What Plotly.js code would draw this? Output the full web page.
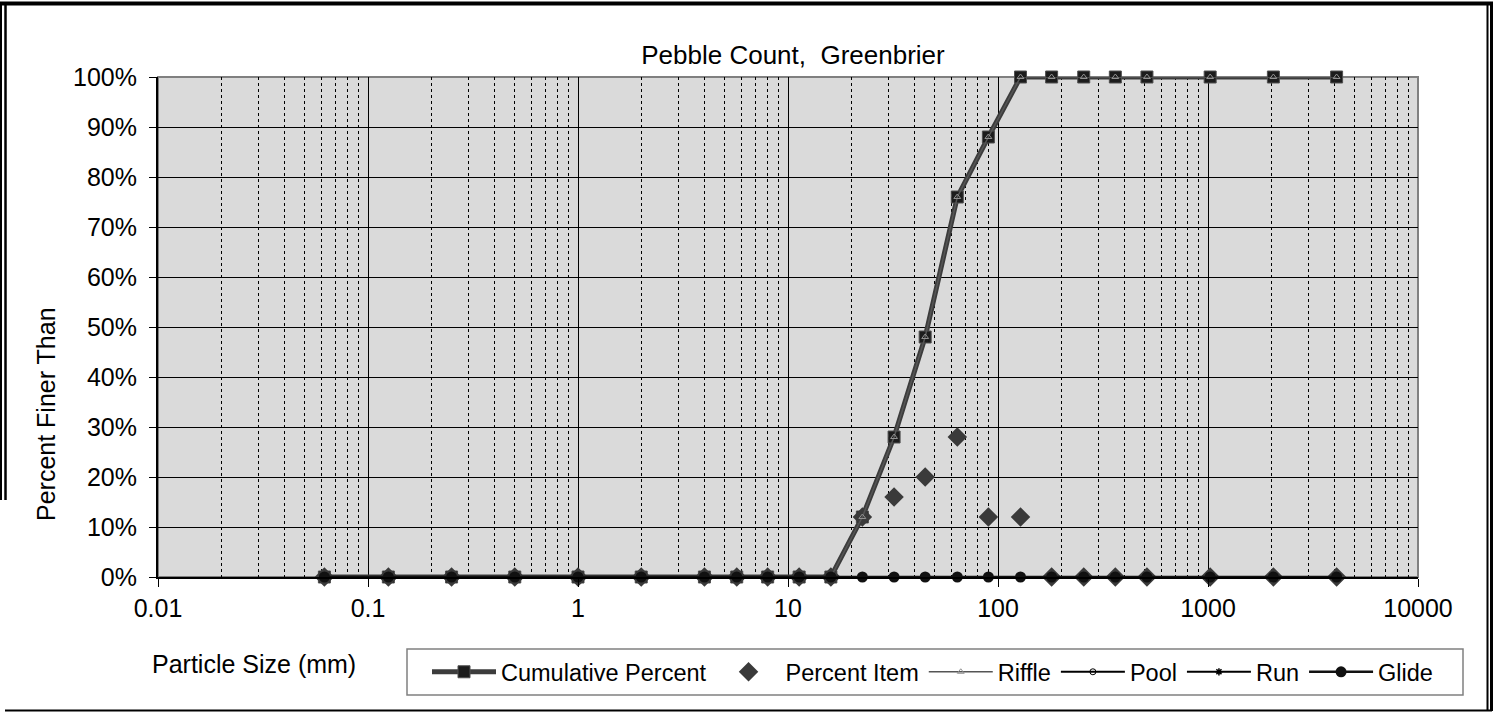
<!DOCTYPE html>
<html>
<head>
<meta charset="utf-8">
<script src="https://cdn.plot.ly/plotly-3.0.1.min.js"></script>
<style>
html,body{margin:0;padding:0;background:#fff;}
#chart{width:1493px;height:713px;}
</style>
</head>
<body>
<div id="chart"></div>
<script>
// Particle sizes (mm)
const sizes = [0.062, 0.125, 0.25, 0.5, 1, 2, 4, 5.7, 8, 11.3, 16, 22.6, 32, 45, 64, 90, 128, 180, 256, 362, 512, 1024, 2048, 4096];
// Cumulative percent finer
const cumulativePercent = [0, 0, 0, 0, 0, 0, 0, 0, 0, 0, 0, 12, 28, 48, 76, 88, 100, 100, 100, 100, 100, 100, 100, 100];
// Percent item
const percentItem = [0, 0, 0, 0, 0, 0, 0, 0, 0, 0, 0, 12, 16, 20, 28, 12, 12, 0, 0, 0, 0, 0, 0, 0];
// Riffle (same as cumulative)
const riffle = [0, 0, 0, 0, 0, 0, 0, 0, 0, 0, 0, 12, 28, 48, 76, 88, 100, 100, 100, 100, 100, 100, 100, 100];
// Pool, Run, Glide
const pool = [0, 0, 0, 0, 0, 0, 0, 0, 0, 0, 0, 0, 0, 0, 0, 0, 0, 0, 0, 0, 0, 0, 0, 0];
const run = [0, 0, 0, 0, 0, 0, 0, 0, 0, 0, 0, 0, 0, 0, 0, 0, 0, 0, 0, 0, 0, 0, 0, 0];
const glide = [0, 0, 0, 0, 0, 0, 0, 0, 0, 0, 0, 0, 0, 0, 0, 0, 0, 0, 0, 0, 0, 0, 0, 0];

const chartTitle = 'Pebble Count,  Greenbrier';
const xTitle = 'Particle Size (mm)';
const yTitle = 'Percent Finer Than';

const FONT = '"Liberation Sans", Arial, sans-serif';
const FS = 25;

// pixel -> paper helpers (plot area: x 158..1418, y 77..577)
const L = 158, R = 1418, T = 77, B = 577;
const px = p => (p - L) / (R - L);
const py = p => (B - p) / (B - T);

const traces = [
  {name: 'Cumulative Percent', x: sizes, y: cumulativePercent, type: 'scatter', mode: 'lines+markers',
   line: {color: '#3c3c3c', width: 5},
   marker: {symbol: 'square', size: 12, color: '#1c1c1c', line: {color: '#505050', width: 1}},
   cliponaxis: false},
  {name: 'Percent Item', x: sizes, y: percentItem, type: 'scatter', mode: 'markers',
   marker: {symbol: 'diamond', size: 15, color: '#3a3a3a'},
   cliponaxis: false},
  {name: 'Riffle', x: sizes, y: riffle, type: 'scatter', mode: 'lines+markers',
   line: {color: '#555555', width: 1.5},
   marker: {symbol: 'triangle-up-open', size: 6, color: '#909090', line: {width: 1}},
   cliponaxis: false},
  {name: 'Pool', x: sizes, y: pool, type: 'scatter', mode: 'lines+markers',
   line: {color: '#000000', width: 2},
   marker: {symbol: 'circle-open', size: 6, color: '#000000', line: {width: 1}},
   cliponaxis: false},
  {name: 'Run', x: sizes, y: run, type: 'scatter', mode: 'lines+markers',
   line: {color: '#000000', width: 2},
   marker: {symbol: 'asterisk-open', size: 6, color: '#000000', line: {width: 1.5}},
   cliponaxis: false},
  {name: 'Glide', x: sizes, y: glide, type: 'scatter', mode: 'lines+markers',
   line: {color: '#111111', width: 2.5},
   marker: {symbol: 'circle', size: 11, color: '#111111'},
   cliponaxis: false}
];

const shapes = [
  // plot area border (gray, top/right)
  {type: 'rect', xref: 'paper', yref: 'paper', x0: 0, x1: 1, y0: 0, y1: 1,
   line: {color: '#808080', width: 2}, layer: 'between'},
  // legend box
  {type: 'rect', xref: 'paper', yref: 'paper', x0: px(407), x1: px(1463), y0: py(649), y1: py(695),
   line: {color: '#808080', width: 1.5}, fillcolor: 'rgba(0,0,0,0)'},
  // outer frame
  {type: 'line', xref: 'paper', yref: 'paper', x0: px(0), x1: px(1493), y0: py(3.5), y1: py(3.5), line: {color: '#000', width: 4}},
  {type: 'line', xref: 'paper', yref: 'paper', x0: px(1), x1: px(1), y0: py(2), y1: py(500), line: {color: '#000', width: 2}},
  {type: 'line', xref: 'paper', yref: 'paper', x0: px(5.5), x1: px(5.5), y0: py(2), y1: py(500), line: {color: '#000', width: 2.5}},
  {type: 'line', xref: 'paper', yref: 'paper', x0: px(1487.5), x1: px(1487.5), y0: py(2), y1: py(711), line: {color: '#000', width: 2}},
  {type: 'line', xref: 'paper', yref: 'paper', x0: px(1491.5), x1: px(1491.5), y0: py(2), y1: py(711), line: {color: '#000', width: 3}},
  {type: 'line', xref: 'paper', yref: 'paper', x0: px(5), x1: px(1492), y0: py(710.5), y1: py(710.5), line: {color: '#000', width: 2}}
];

const annotations = [
  {text: xTitle, xref: 'paper', yref: 'paper', x: px(254), y: py(664), showarrow: false,
   xanchor: 'center', yanchor: 'middle', font: {family: FONT, size: FS, color: '#000'}},
  {text: yTitle, xref: 'paper', yref: 'paper', x: px(46), y: py(414), showarrow: false, textangle: -90,
   xanchor: 'center', yanchor: 'middle', font: {family: FONT, size: FS, color: '#000'}}
];

const layout = {
  width: 1493, height: 713,
  margin: {l: L, r: 1493 - R, t: T, b: 713 - B, pad: 0},
  paper_bgcolor: '#ffffff',
  plot_bgcolor: '#dadada',
  font: {family: FONT, size: FS, color: '#000'},
  title: {text: chartTitle, xref: 'paper', x: px(793), y: 1 - 55 / 713, yref: 'container',
          xanchor: 'center', yanchor: 'middle', font: {family: FONT, size: 26, color: '#000'}},
  xaxis: {type: 'log', range: [-2, 4], tickvals: [0.01, 0.1, 1, 10, 100, 1000, 10000],
          ticktext: ['0.01', '0.1', '1', '10', '100', '1000', '10000'],
          showgrid: true, gridcolor: '#000', gridwidth: 1,
          minor: {dtick: 'D1', showgrid: true, gridcolor: '#000', griddash: 'dot', gridwidth: 1, ticks: ''},
          ticks: 'outside', ticklen: 8, tickwidth: 1, tickcolor: '#000',
          showline: true, linecolor: '#000', linewidth: 2, zeroline: false,
          tickfont: {family: FONT, size: FS, color: '#000'}},
  yaxis: {range: [0, 100], dtick: 10, ticksuffix: '%', showgrid: true, gridcolor: '#000', gridwidth: 1,
          ticks: 'outside', ticklen: 7, tickwidth: 1, tickcolor: '#000', ticklabelstandoff: 7,
          showline: true, linecolor: '#000', linewidth: 2, zeroline: false,
          tickfont: {family: FONT, size: FS, color: '#000'}},
  showlegend: true,
  legend: {orientation: 'h', x: px(427), y: py(672), xanchor: 'left', yanchor: 'middle',
           bgcolor: 'rgba(0,0,0,0)', borderwidth: 0, font: {family: FONT, size: 23.5, color: '#000'},
           itemwidth: 64, traceorder: 'normal'},
  shapes: shapes,
  annotations: annotations
};

Plotly.newPlot('chart', traces, layout, {displayModeBar: false, staticPlot: true});
</script>
</body>
</html>
